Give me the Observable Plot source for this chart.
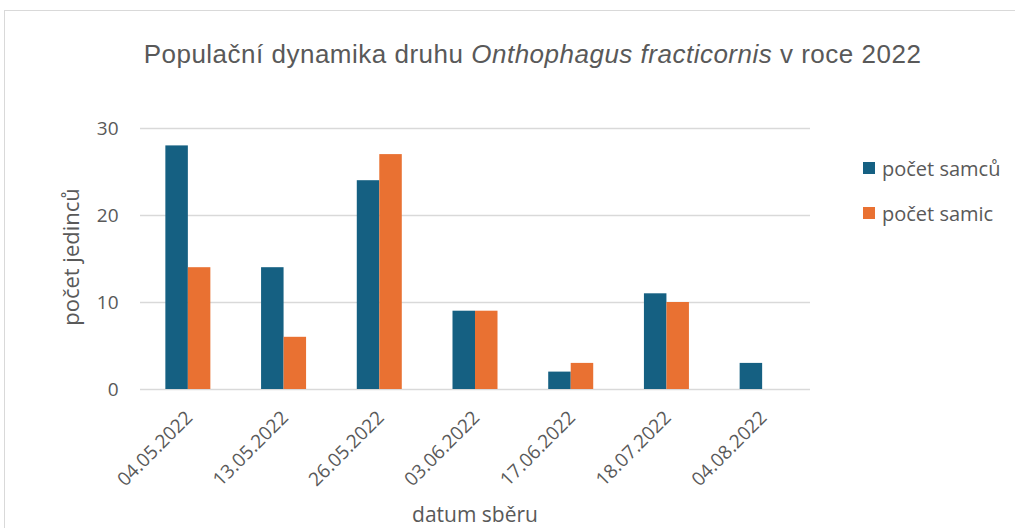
<!DOCTYPE html>
<html>
<head>
<meta charset="utf-8">
<script src="https://cdn.jsdelivr.net/npm/d3@7"></script>
<script src="https://cdn.jsdelivr.net/npm/@observablehq/plot@0.6"></script>
<style>
  html, body { margin: 0; padding: 0; background: #fff; }
  #wrap { position: relative; width: 1015px; height: 528px; overflow: hidden; color: #595959; font-family: "Open Sans", "Liberation Sans", sans-serif; }
  #frame { position: absolute; left: 4px; top: 10px; width: 1040px; height: 560px; border: 1px solid #d9d9d9; box-sizing: border-box; }
  #title { position: absolute; left: 0; width: 1065px; top: 41px; text-align: center; white-space: nowrap; font-family: "Liberation Sans", Arial, sans-serif; font-size: 26px; letter-spacing: 0.5px; color: #595959; line-height: 1; }
  #plot { position: absolute; left: 0; top: 0; }
  #legend { position: absolute; left: 863px; top: 156px; font-size: 20px; color: #595959; }
  .item { display: flex; align-items: center; height: 24px; margin-bottom: 21px; white-space: nowrap; }
  .sw { width: 12px; height: 12px; margin-right: 7px; }
  #xlabel { position: absolute; left: 140px; width: 670px; top: 504px; text-align: center; font-size: 21px; line-height: 1; }
  #ylabel { position: absolute; left: 70px; top: 257px; transform: translate(-50%, -50%) rotate(-90deg); font-size: 22px; white-space: nowrap; line-height: 1; }
</style>
</head>
<body>
<div id="wrap">
  <div id="frame"></div>
  <div id="plot"></div>
  <div id="title"></div>
  <div id="legend"></div>
  <div id="xlabel"></div>
  <div id="ylabel"></div>
</div>
<script>
// ---- data ----
const dates = ["04.05.2022", "13.05.2022", "26.05.2022", "03.06.2022", "17.06.2022", "18.07.2022", "04.08.2022"];
const samci = [28, 14, 24, 9, 2, 11, 3];
const samice = [14, 6, 27, 9, 3, 10, 0];
const seriesNames = ["počet samců", "počet samic"];
const seriesColors = ["#156082", "#E97132"];
const yTicks = [0, 10, 20, 30];
const titleParts = ["Populační dynamika druhu ", "Onthophagus fracticornis", " v roce 2022"];
const xTitle = "datum sběru";
const yTitle = "počet jedinců";

// ---- layout ----
const W = 1015, H = 528;
const mL = 140, mR = 205, mT = 128, mB = 139;
const step = (W - mL - mR) / dates.length;
const barW = 22.5;

const data = dates.map((d, i) => ({date: d, samci: samci[i], samice: samice[i]}));

const chart = Plot.plot({
  width: W,
  height: H,
  marginLeft: mL,
  marginRight: mR,
  marginTop: mT,
  marginBottom: mB,
  style: {fontFamily: '"Open Sans", "Liberation Sans", sans-serif', color: "#595959", background: "transparent", overflow: "visible"},
  x: {domain: dates, padding: 0, round: false},
  y: {domain: [0, 30]},
  marks: [
    Plot.ruleY(yTicks, {stroke: "#d9d9d9", strokeWidth: 1.5}),
    Plot.barY(data, {x: "date", y: "samci", fill: seriesColors[0], insetLeft: step / 2 - barW, insetRight: step / 2}),
    Plot.barY(data, {x: "date", y: "samice", fill: seriesColors[1], insetLeft: step / 2, insetRight: step / 2 - barW}),
    Plot.axisY({ticks: yTicks, tickSize: 0, tickPadding: 22, fontSize: 19, label: null}),
    Plot.axisX({tickSize: 0, tickRotate: -45, fontSize: 19, tickPadding: 25, label: null, dx: 1})
  ]
});
document.getElementById("plot").appendChild(chart);

// title
const t = document.getElementById("title");
titleParts.forEach((p, i) => {
  const s = document.createElement("span");
  s.textContent = p;
  if (i === 1) s.style.fontStyle = "italic";
  t.appendChild(s);
});

// legend
const lg = document.getElementById("legend");
seriesNames.forEach((n, i) => {
  const it = document.createElement("div");
  it.className = "item";
  const sw = document.createElement("div");
  sw.className = "sw";
  sw.style.background = seriesColors[i];
  const tx = document.createElement("span");
  tx.textContent = n;
  it.appendChild(sw);
  it.appendChild(tx);
  lg.appendChild(it);
});

document.getElementById("xlabel").textContent = xTitle;
document.getElementById("ylabel").textContent = yTitle;
</script>
</body>
</html>
